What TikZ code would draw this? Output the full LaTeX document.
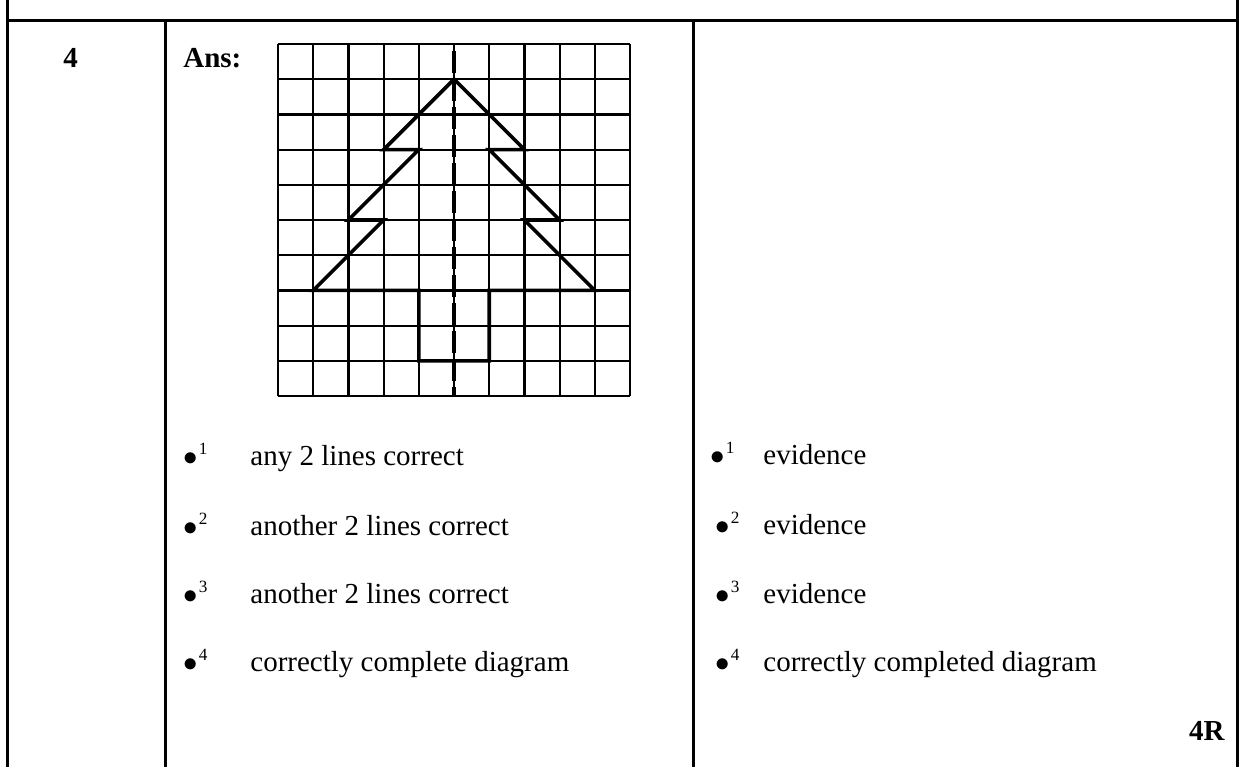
\documentclass[tikz,border=0pt]{standalone}
\usepackage{fontspec}
\setmainfont{Liberation Serif}
\usetikzlibrary{positioning}

% bullet with a small raised number
\newcommand\markpt[1]{$\bullet$\kern0.5pt\raisebox{5.5pt}{\fontsize{8.6}{9}\selectfont #1}}

\begin{document}
\begin{tikzpicture}[
x=0.5pt, y=-0.5pt,
rule/.style={line width=1.5pt},
txt/.style={inner sep=0pt, anchor=base west, font=\fontsize{14.5}{17}\selectfont},
bold/.style={txt, font=\fontsize{14.5}{17}\selectfont\bfseries},
gridline/.style={line width=1.1pt},
outline/.style={line width=1.8pt, line join=miter},
mirror/.style={line width=2.2pt, dash pattern=on 11pt off 3pt}
]
\useasboundingbox (0,0) rectangle (1240,767);

% table rules
\draw[rule] (7,0) -- (7,767);
\draw[rule] (1237,0) -- (1237,767);
\draw[rule] (7,20) -- (1237,20);
\draw[rule] (165,20) -- (165,767);
\draw[rule] (693,20) -- (693,767);

% headings
\node[bold] (qnum) at (63,67) {4};
\node[bold] (ans) at (183,67) {Ans:};
\node[bold, anchor=base east] (mark) at (1225,740) {4R};

% the tree on squared paper
\begin{scope}[shift={(278,396)}, x=17.6pt, y=17.6pt]
\draw[gridline, step=17.6pt] (0,0) grid (10,10);
\draw[outline] (5,9) -- (3,7) -- (4,7) -- (2,5) -- (3,5) -- (1,3) -- (4,3)
  -- (4,1) -- (6,1) -- (6,3) -- (9,3) -- (7,5) -- (8,5) -- (6,7) -- (7,7) -- cycle;
\draw[mirror] (5,9.8) -- (5,0);
\end{scope}

% marking points
\node[txt] (b1) at (183,465) {\markpt{1}};
\node[txt] (b2) at (183,535) {\markpt{2}};
\node[txt] (b3) at (183,603) {\markpt{3}};
\node[txt] (b4) at (183,671) {\markpt{4}};
\node[txt] (p1) at (250,465) {any 2 lines correct};
\node[txt] (p2) at (250,535) {another 2 lines correct};
\node[txt] (p3) at (250,603) {another 2 lines correct};
\node[txt] (p4) at (250,671) {correctly complete diagram};

% illustrative scheme
\node[txt] (e1) at (710,464) {\markpt{1}};
\node[txt] (e2) at (715,534) {\markpt{2}};
\node[txt] (e3) at (715,603) {\markpt{3}};
\node[txt] (e4) at (715,671) {\markpt{4}};
\node[txt] (r1) at (763,464) {evidence};
\node[txt] (r2) at (763,534) {evidence};
\node[txt] (r3) at (763,603) {evidence};
\node[txt] (r4) at (763,671) {correctly completed diagram};
\end{tikzpicture}
\end{document}
